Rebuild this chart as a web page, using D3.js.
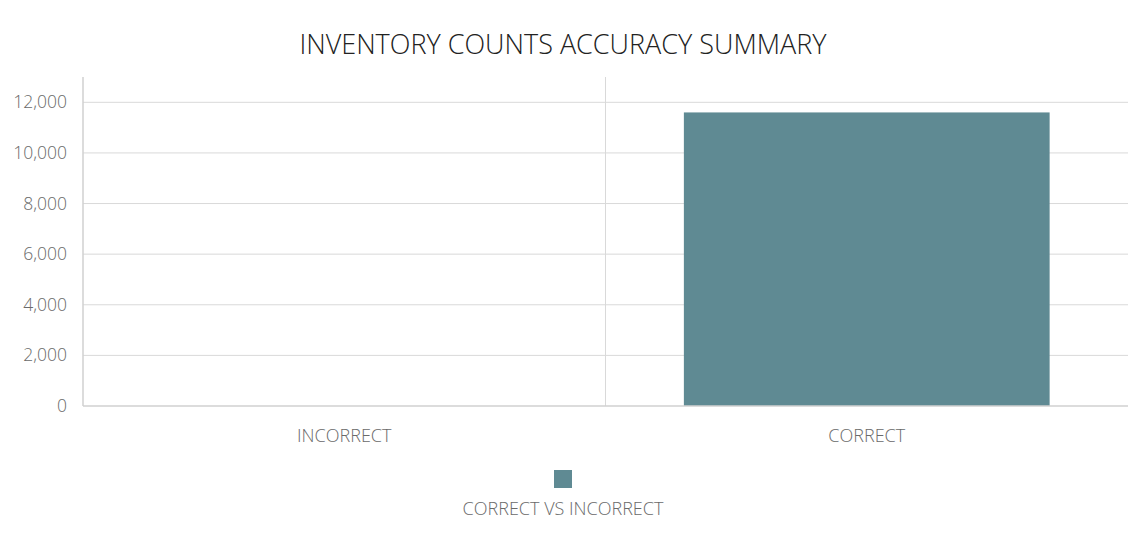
<!DOCTYPE html>
<html><head><meta charset="utf-8">
<script src="https://cdn.jsdelivr.net/npm/d3@7"></script>
<style>
body{margin:0;background:#fff;}
text{font-family:"Open Sans","Segoe UI",sans-serif;}
</style></head>
<body><svg id="c" width="1141" height="551"></svg>
<script>
const categories = ["INCORRECT", "CORRECT"];
const values = [0, 11600];
const yTicks = [0, 2000, 4000, 6000, 8000, 10000, 12000];
const seriesName = "CORRECT VS INCORRECT";
const title = "INVENTORY COUNTS ACCURACY SUMMARY";

const svg = d3.select("#c");
const m = {l:83, r:1128, t:77, b:406};
const color = "#5f8a93";

const x = d3.scaleBand().domain(categories).range([m.l, m.r]).paddingInner(0.3).paddingOuter(0.15);
const xb = d3.scaleBand().domain(categories).range([m.l, m.r]);
const y = d3.scaleLinear().domain([0, 13000]).range([m.b, m.t]);

svg.append("text").attr("x", 563).attr("y", 54).attr("text-anchor","middle")
  .attr("font-size", 27).attr("font-weight", 300).attr("fill", "#222").text(title);

// grid
svg.append("g").selectAll("line").data(yTicks.filter(d=>d>0)).join("line")
  .attr("x1", m.l).attr("x2", m.r).attr("y1", d=>y(d)).attr("y2", d=>y(d))
  .attr("stroke", "#d9d9d9").attr("stroke-width", 1);
// category separators
svg.append("g").selectAll("line").data(categories.slice(1)).join("line")
  .attr("x1", d=>xb(d)).attr("x2", d=>xb(d)).attr("y1", m.t).attr("y2", m.b)
  .attr("stroke", "#d9d9d9");

// bars
svg.append("g").selectAll("rect").data(categories).join("rect")
  .attr("x", d=>x(d)).attr("width", x.bandwidth())
  .attr("y", (d,i)=>y(values[i])).attr("height", (d,i)=>m.b - y(values[i]))
  .attr("fill", color);

// axes lines
svg.append("line").attr("x1", m.l).attr("x2", m.l).attr("y1", m.t).attr("y2", m.b)
  .attr("stroke", "#d0d0d0").attr("stroke-width", 1.5);
svg.append("line").attr("x1", m.l).attr("x2", m.r).attr("y1", m.b).attr("y2", m.b)
  .attr("stroke", "#d0d0d0").attr("stroke-width", 1.5);

// y labels
const yAxis = d3.axisLeft(y).tickValues(yTicks).tickSize(0).tickPadding(16).tickFormat(d3.format(","));
const ya = svg.append("g").attr("transform", `translate(${m.l},0)`).call(yAxis);
ya.select(".domain").remove();
ya.selectAll("text").attr("font-size", 17.5).attr("font-weight", 300).attr("fill", "#6a6a6a").attr("font-family","'Open Sans',sans-serif");

// x labels
const xAxis = d3.axisBottom(xb).tickSize(0).tickPadding(23);
const xa = svg.append("g").attr("transform", `translate(0,${m.b})`).call(xAxis);
xa.select(".domain").remove();
xa.selectAll("text").attr("font-size", 18).attr("font-weight", 300).attr("fill", "#6a6a6a").attr("font-family","'Open Sans',sans-serif");

// legend
svg.append("rect").attr("x", 554).attr("y", 470).attr("width", 18).attr("height", 18).attr("fill", color);
svg.append("text").attr("x", 563).attr("y", 515).attr("text-anchor","middle")
  .attr("font-size", 18).attr("font-weight", 300).attr("fill", "#6a6a6a").text(seriesName);
</script></body></html>
